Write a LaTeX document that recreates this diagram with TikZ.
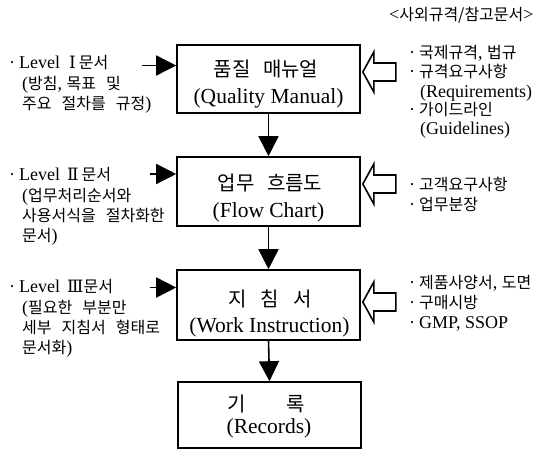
\documentclass[tikz,border=0pt]{standalone}
\usepackage{fontspec}
\setmainfont{Liberation Serif}
\newfontfamily\krn[WordSpace=3.0]{Noto Sans CJK KR}
\newfontfamily\krb[WordSpace=2.8]{Noto Sans CJK KR}
\newfontfamily\rnum{DejaVu Serif}
\usetikzlibrary{arrows.meta}
% Korean runs: small (side notes) and big (boxes); roman numerals
\newcommand\Ks[1]{{\krn\fontsize{16}{19}\selectfont #1}}
\newcommand\Kb[1]{{\krb\fontsize{20}{29}\selectfont #1}}
\newcommand\Rn[1]{{\rnum\fontsize{17}{19}\selectfont #1}}
\begin{document}
\begin{tikzpicture}[x=1pt,y=-1pt,
  docbox/.style={draw, line width=1.6pt, minimum width=183pt, inner sep=0pt},
  boxtext/.style={anchor=base, inner sep=0pt, font=\fontsize{21.5}{29}\selectfont},
  note/.style={anchor=base west, inner sep=0pt, font=\fontsize{18}{19}\selectfont},
  flow/.style={line width=1.6pt, -{Triangle[length=20pt,width=20pt]}},
  feed/.style={line width=1.6pt, -{Triangle[length=20pt,width=20pt]}},
  hollow/.style={draw, line width=1.6pt, fill=white, line join=miter}]
\useasboundingbox (0,0) rectangle (559,450);

% main document hierarchy
\node[docbox, minimum height=68pt] (b1) at (268.5,79) {};
\node[docbox, minimum height=69pt] (b2) at (268.5,191.5) {};
\node[docbox, minimum height=70pt] (b3) at (268.5,305) {};
\node[docbox, minimum height=66pt] (b4) at (269.5,415) {};

\node[boxtext] (t1a) at (266,76) {\Kb{품질 매뉴얼}};
\node[boxtext] (t1b) at (268.5,103) {(Quality Manual)};
\node[boxtext] (t2a) at (270,190.5) {\Kb{업무 흐름도}};
\node[boxtext] (t2b) at (268.5,217.5) {(Flow Chart)};
\node[boxtext] (t3a) at (270,306) {\Kb{지\hspace{0.7em}침\hspace{0.7em}서}};
\node[boxtext] (t3b) at (269.5,332.5) {(Work Instruction)};
\node[boxtext] (t4a) at (266,411) {\Kb{기\hspace{2em}록}};
\node[boxtext] (t4b) at (269,433.5) {(Records)};

\draw[flow] (b1.south) -- (b2.north);
\draw[flow] (b2.south) -- (b3.north);
\draw[flow] (b3.south) -- (b4.north);

% level descriptions on the left
\coordinate (la1) at (142,65.5);
\coordinate (la2) at (150,174);
\coordinate (la3) at (150,287.5);
\draw[feed] (la1) -- (la1 -| b1.west);
\draw[feed] (la2) -- (la2 -| b2.west);
\draw[feed] (la3) -- (la3 -| b3.west);

\node[note] (l1a) at (9,68) {·\hspace{4pt}Level\hspace{9pt}\Rn{Ⅰ}\,\Ks{문서}};
\node[note] (l1b) at (22,89) {(\Ks{방침}, \Ks{목표 및}};
\node[note] (l1c) at (22,109) {\Ks{주요 절차를 규정})};

\node[note] (l2a) at (9,180) {·\hspace{4pt}Level\hspace{7pt}\Rn{Ⅱ}\,\Ks{문서}};
\node[note] (l2b) at (22,201) {(\Ks{업무처리순서와}};
\node[note] (l2c) at (22,221) {\Ks{사용서식을 절차화한}};
\node[note] (l2d) at (22,241) {\Ks{문서})};

\node[note] (l3a) at (9,292) {·\hspace{4pt}Level\hspace{7pt}\Rn{Ⅲ}\Ks{문서}};
\node[note] (l3b) at (22,313) {(\Ks{필요한 부분만}};
\node[note] (l3c) at (22,333) {\Ks{세부 지침서 형태로}};
\node[note] (l3d) at (22,353) {\Ks{문서화})};

% external references on the right
\coordinate (ha1) at (0,72);
\coordinate (ha2) at (0,184);
\coordinate (ha3) at (0,302);
\foreach \b/\h in {b1/ha1, b2/ha2, b3/ha3}
  \draw[hollow] (\b.east |- \h) ++(2,0) -- ++(11,-20) -- ++(0,11) -- ++(22,0)
    -- ++(0,18) -- ++(-22,0) -- ++(0,11) -- cycle;

\node[note] (top) at (389,20) {<\Ks{사외규격/참고문서}>};

\node[note] (r1a) at (409,58) {·\hspace{4pt}\Ks{국제규격}, \Ks{법규}};
\node[note] (r1b) at (409,77) {·\hspace{4pt}\Ks{규격요구사항}};
\node[note] (r1c) at (420,97) {(Requirements)};
\node[note] (r1d) at (409,115) {·\hspace{4pt}\Ks{가이드라인}};
\node[note] (r1e) at (420,134) {(Guidelines)};

\node[note] (r2a) at (409,190) {·\hspace{4pt}\Ks{고객요구사항}};
\node[note] (r2b) at (409,210) {·\hspace{4pt}\Ks{업무분장}};

\node[note] (r3a) at (409,288) {·\hspace{4pt}\Ks{제품사양서}, \Ks{도면}};
\node[note] (r3b) at (409,308) {·\hspace{4pt}\Ks{구매시방}};
\node[note] (r3c) at (409,328) {·\hspace{4pt}GMP, SSOP};
\end{tikzpicture}
\end{document}
